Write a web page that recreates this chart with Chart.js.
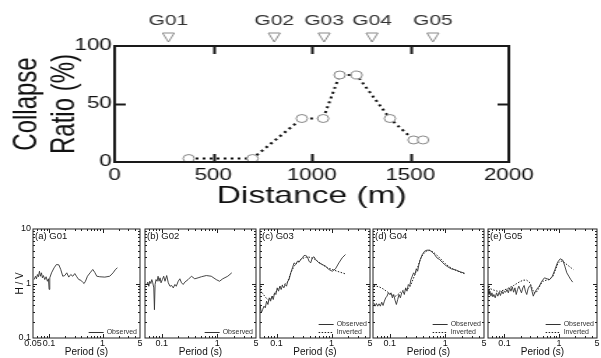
<!DOCTYPE html>
<html>
<head>
<meta charset="utf-8">
<script src="https://cdn.jsdelivr.net/npm/chart.js@4"></script>
<style>
  body { margin: 0; background: #fff; width: 601px; height: 358px; overflow: hidden; position: relative; }
  canvas { position: absolute; }
  #topWrap { position: absolute; left: 0; top: 0; width: 430px; height: 215px; transform: scaleX(1.3977); transform-origin: 0 0; }
</style>
</head>
<body>
<div id="topWrap"><canvas id="collapse" width="430" height="215" style="left:0;top:0"></canvas></div>
<canvas id="pA" width="146" height="143" style="left:0;top:215px"></canvas>
<canvas id="pB" width="121" height="143" style="left:141px;top:215px"></canvas>
<canvas id="pC" width="120" height="143" style="left:256px;top:215px"></canvas>
<canvas id="pD" width="121" height="143" style="left:369px;top:215px"></canvas>
<canvas id="pE" width="119" height="143" style="left:484px;top:215px"></canvas>
<script>
// --- top panel: collapse ratio along the line ---
const distance = [376, 700, 950, 1058, 1142, 1228, 1397, 1517, 1565];
const collapseRatio = [3, 3, 37.5, 37.5, 75, 75, 37.5, 19, 19];
const stationNames = ["G01", "G02", "G03", "G04", "G05"];
const stationDist = [273, 810, 1063, 1306, 1615];
const distTicks = [0, 500, 1000, 1500, 2000];
const ratioTicks = [0, 50, 100];

// --- H/V panels (period s, H/V) ---
const g01Observed = [[0.0525,1.18],[0.0556,1.36],[0.058,1.22],[0.0605,1.46],[0.0632,1.33],[0.066,1.68],[0.0689,1.36],[0.072,1.57],[0.075,1.27],[0.0783,1.40],[0.083,1.18],[0.0879,1.33],[0.093,1.10],[0.0972,1.22],[0.100,0.78],[0.103,1.27],[0.111,1.57],[0.124,1.94],[0.137,2.23],[0.152,2.20],[0.165,1.81],[0.18,1.36],[0.196,1.40],[0.214,1.57],[0.233,1.31],[0.254,1.46],[0.277,1.36],[0.302,1.52],[0.329,1.33],[0.359,1.18],[0.391,1.15],[0.426,1.05],[0.451,1.0],[0.478,1.10],[0.521,1.36],[0.584,1.57],[0.655,1.81],[0.714,1.60],[0.778,1.36],[0.885,1.33],[1.10,1.31],[1.36,1.36],[1.57,1.57],[1.74,1.81],[1.89,1.94]];
const g02Observed = [[0.054,0.96],[0.0562,1.06],[0.0586,0.89],[0.061,1.10],[0.0637,1.0],[0.0663,1.18],[0.069,1.03],[0.072,0.83],[0.074,0.33],[0.076,0.96],[0.079,1.18],[0.0826,1.10],[0.086,1.36],[0.0896,1.10],[0.0934,1.27],[0.0973,1.03],[0.1028,1.18],[0.1086,1.36],[0.1147,1.10],[0.123,1.40],[0.1315,1.03],[0.141,0.89],[0.151,0.92],[0.1615,0.83],[0.173,0.96],[0.183,0.89],[0.1985,1.10],[0.2125,1.22],[0.2275,1.03],[0.2437,0.96],[0.261,1.06],[0.299,1.18],[0.3435,1.36],[0.394,1.22],[0.452,1.27],[0.518,1.33],[0.636,1.40],[0.781,1.36],[0.96,1.18],[1.10,1.10],[1.26,1.22],[1.55,1.36],[1.83,1.57]];
const g03Observed = [[0.050,0.412],[0.0529,0.29],[0.0559,0.333],[0.059,0.384],[0.0624,0.358],[0.0659,0.474],[0.0697,0.412],[0.0736,0.546],[0.0779,0.474],[0.0824,0.586],[0.0871,0.508],[0.092,0.674],[0.0973,0.628],[0.1028,0.832],[0.1087,0.723],[0.1149,0.893],[0.1213,0.776],[0.128,0.92],[0.1357,0.832],[0.1435,0.958],[0.1517,0.893],[0.160,1.10],[0.169,1.18],[0.1815,1.57],[0.1945,1.94],[0.2085,2.39],[0.2235,2.23],[0.2397,2.57],[0.257,2.46],[0.2754,2.76],[0.295,2.96],[0.316,3.26],[0.339,3.26],[0.363,3.09],[0.389,2.57],[0.417,2.39],[0.447,2.96],[0.48,3.09],[0.514,2.76],[0.590,2.39],[0.678,2.23],[0.779,2.08],[0.895,1.81],[1.03,1.68],[1.18,1.86],[1.36,2.39],[1.56,2.96],[1.79,3.40]];
const g03Inverted = [[0.050,0.755],[0.0559,0.656],[0.0641,0.546],[0.0716,0.494],[0.079,0.523],[0.0907,0.628],[0.104,0.776],[0.1197,0.893],[0.1376,0.958],[0.158,1.06],[0.1815,1.57],[0.2085,2.08],[0.2397,2.46],[0.2754,2.76],[0.316,2.96],[0.363,3.09],[0.417,3.0],[0.48,2.84],[0.551,2.57],[0.678,2.23],[0.835,1.94],[1.03,1.81],[1.26,1.68],[1.56,1.57],[1.79,1.50]];
const g04Observed = [[0.0516,0.442],[0.0546,0.384],[0.0576,0.430],[0.0608,0.384],[0.0643,0.424],[0.0679,0.384],[0.0718,0.454],[0.0759,0.395],[0.0802,0.474],[0.0847,0.546],[0.0895,0.586],[0.0946,0.674],[0.1,0.628],[0.1057,0.674],[0.1117,0.546],[0.118,0.628],[0.1247,0.494],[0.1318,0.412],[0.1393,0.508],[0.1472,0.628],[0.1556,0.546],[0.1644,0.674],[0.1738,0.723],[0.1834,0.628],[0.1938,0.832],[0.2048,0.723],[0.2164,0.958],[0.2286,0.893],[0.2415,1.18],[0.2552,1.36],[0.2697,1.57],[0.285,1.46],[0.3012,1.86],[0.3183,1.68],[0.3363,2.23],[0.3555,2.76],[0.3862,3.40],[0.4254,3.92],[0.4686,4.09],[0.5233,4.09],[0.5836,3.76],[0.6427,3.40],[0.7077,2.96],[0.7907,2.76],[0.883,2.46],[0.9728,2.23],[1.116,2.02],[1.282,1.86],[1.578,1.76],[1.858,1.64],[2.223,1.55]];
const g04Inverted = [[0.0516,0.919],[0.0576,0.893],[0.0661,0.857],[0.0759,0.798],[0.0871,0.723],[0.1,0.656],[0.1148,0.602],[0.1282,0.586],[0.1412,0.628],[0.1556,0.693],[0.1738,0.744],[0.1938,0.776],[0.2133,0.798],[0.2349,0.893],[0.2624,1.18],[0.2929,1.57],[0.3228,2.08],[0.3555,2.76],[0.3971,3.40],[0.4557,3.92],[0.5233,4.03],[0.60,3.81],[0.6885,3.40],[0.7907,2.96],[0.9078,2.57],[1.042,2.23],[1.196,2.02],[1.374,1.86],[1.578,1.73],[1.858,1.61],[2.223,1.52]];
const g05Observed = [[0.050,0.776],[0.0521,0.628],[0.0543,0.723],[0.0566,0.586],[0.059,0.674],[0.0615,0.569],[0.0641,0.628],[0.0678,0.546],[0.0717,0.674],[0.0758,0.586],[0.0801,0.693],[0.0847,0.602],[0.0895,0.723],[0.0946,0.646],[0.1,0.723],[0.1057,0.693],[0.1117,0.776],[0.118,0.674],[0.1248,0.832],[0.1319,0.723],[0.1394,0.869],[0.1475,0.693],[0.1559,0.832],[0.1648,0.628],[0.1741,0.776],[0.184,0.893],[0.1945,0.776],[0.2056,0.674],[0.2175,0.832],[0.2299,0.919],[0.2429,0.723],[0.257,0.628],[0.2716,0.798],[0.2871,0.893],[0.3034,0.919],[0.3206,0.723],[0.3388,0.586],[0.3581,0.674],[0.389,0.776],[0.4352,0.893],[0.4862,1.103],[0.5433,1.27],[0.6068,1.218],[0.678,1.184],[0.7586,1.363],[0.847,1.807],[0.9462,2.46],[1.057,2.84],[1.181,2.68],[1.283,2.08],[1.396,1.57],[1.517,1.363],[1.648,1.184],[1.791,1.06]];
const g05Inverted = [[0.050,0.856],[0.0558,0.798],[0.0641,0.755],[0.0737,0.723],[0.0847,0.723],[0.0973,0.755],[0.1117,0.798],[0.1283,0.856],[0.1475,0.919],[0.1694,1.0],[0.1945,1.088],[0.2236,1.151],[0.257,1.151],[0.2951,1.028],[0.3296,0.776],[0.3484,0.674],[0.3786,0.674],[0.417,0.776],[0.46,0.958],[0.514,1.103],[0.59,1.151],[0.678,1.184],[0.7798,1.363],[0.8706,1.807],[0.9594,2.328],[1.057,2.57],[1.181,2.57],[1.319,2.328],[1.475,2.14],[1.671,1.94],[1.841,1.807]];

const periodTicks = [0.05, 0.1, 1, 5];
const hvTicks = [0.1, 1, 10];
const periodMinor = [0.06, 0.07, 0.08, 0.09, 0.2, 0.3, 0.4, 0.5, 0.6, 0.7, 0.8, 0.9, 2, 3, 4];
const hvMinor = [0.2, 0.3, 0.4, 0.5, 0.6, 0.7, 0.8, 0.9, 2, 3, 4, 5, 6, 7, 8, 9];

Chart.defaults.font.family = "'Liberation Sans', Arial, sans-serif";
Chart.defaults.color = "#111";
Chart.defaults.animation = false;
Chart.defaults.plugins.legend.display = false;
Chart.defaults.plugins.tooltip.enabled = false;

// box round the plot area with ticks pointing inside
const frameTicks = {
  id: "frameTicks",
  afterDraw(chart, args, o) {
    const { ctx, chartArea: a, scales } = chart;
    const xs = scales.x, ys = scales.y;
    ctx.save();
    ctx.setLineDash([]);
    ctx.strokeStyle = o.color;
    ctx.lineWidth = o.width;
    ctx.strokeRect(a.left, a.top, a.right - a.left, a.bottom - a.top);
    ctx.beginPath();
    const doX = (vals, len) => vals.forEach(v => {
      const px = Math.round(xs.getPixelForValue(v)) + 0.5;
      ctx.moveTo(px, a.bottom); ctx.lineTo(px, a.bottom - len);
      ctx.moveTo(px, a.top); ctx.lineTo(px, a.top + len);
    });
    const doY = (vals, len) => vals.forEach(v => {
      const py = Math.round(ys.getPixelForValue(v)) + 0.5;
      ctx.moveTo(a.left, py); ctx.lineTo(a.left + len, py);
      ctx.moveTo(a.right, py); ctx.lineTo(a.right - len, py);
    });
    doX(o.xMajor || [], o.major);
    doX(o.xMinor || [], o.minor);
    doY(o.yMajor || [], o.major);
    doY(o.yMinor || [], o.minor);
    ctx.stroke();
    ctx.restore();
  }
};

// station triangles above the top panel
const stationMarks = {
  id: "stationMarks",
  afterDraw(chart) {
    const { ctx, chartArea: a, scales } = chart;
    ctx.save();
    ctx.strokeStyle = "#8a8a8a";
    ctx.lineWidth = 1;
    stationDist.forEach(d => {
      const px = scales.xTop.getPixelForValue(d);
      ctx.beginPath();
      ctx.moveTo(px - 4.2, a.top - 13);
      ctx.lineTo(px + 4.2, a.top - 13);
      ctx.lineTo(px, a.top - 4);
      ctx.closePath();
      ctx.stroke();
    });
    ctx.restore();
  }
};

// panel name and small legend inside each H/V box
const panelNotes = {
  id: "panelNotes",
  afterDraw(chart, args, o) {
    const { ctx, chartArea: a } = chart;
    ctx.save();
    ctx.fillStyle = "#111";
    ctx.font = "9.5px 'Liberation Sans', Arial, sans-serif";
    ctx.textBaseline = "top";
    ctx.fillText(o.name, a.left + 2, a.top + 3);
    ctx.font = "7px 'Liberation Sans', Arial, sans-serif";
    ctx.textBaseline = "middle";
    ctx.fillStyle = "#333";
    const sets = chart.data.datasets;
    sets.forEach((ds, i) => {
      const y = a.bottom - 6 - (sets.length - 1 - i) * 8;
      const textW = ctx.measureText("Observed").width;
      const tx = a.right - 3 - textW;
      ctx.fillText(ds.label, tx, y);
      ctx.beginPath();
      ctx.strokeStyle = ds.borderColor;
      ctx.lineWidth = 1;
      ctx.setLineDash(ds.borderDash || []);
      ctx.moveTo(tx - 18, Math.round(y) + 0.5);
      ctx.lineTo(tx - 3, Math.round(y) + 0.5);
      ctx.stroke();
    });
    ctx.restore();
  }
};

function toXY(pairs) {
  return pairs.map(p => ({ x: p[0], y: p[1] }));
}

// Gráfico superior
new Chart(document.getElementById("collapse"), {
  type: "scatter",
  data: {
    datasets: [{
      data: distance.map((d, i) => ({ x: d, y: collapseRatio[i] })),
      showLine: true,
      borderColor: "#111",
      borderWidth: 2,
      borderDash: [2, 3],
      pointRadius: 4,
      pointBackgroundColor: "#fff",
      pointBorderColor: "#888",
      pointBorderWidth: 1
    }]
  },
  options: {
    responsive: false,
    devicePixelRatio: 1,
    layout: { padding: { left: 0, right: 66, top: 0, bottom: 4 } },
    scales: {
      x: {
        type: "linear", position: "bottom", min: 0, max: 2000,
        afterBuildTicks: s => { s.ticks = distTicks.map(v => ({ value: v })); },
        ticks: { callback: v => String(v), padding: 4, font: { size: 16 }, maxRotation: 0, autoSkip: false },
        grid: { display: false, drawTicks: false },
        border: { display: false },
        title: { display: true, text: "Distance (m)", font: { size: 24 }, padding: 0, color: "#111" },
        afterFit: s => { s.height = 49; s.paddingLeft = 0; s.paddingRight = 0; }
      },
      xTop: {
        type: "linear", axis: "x", position: "top", min: 0, max: 2000,
        afterBuildTicks: s => { s.ticks = stationDist.map(v => ({ value: v })); },
        ticks: { callback: (v, i) => stationNames[i], padding: 16, font: { size: 15 }, color: "#333", maxRotation: 0, autoSkip: false },
        grid: { display: false, drawTicks: false },
        border: { display: false },
        afterFit: s => { s.height = 46; s.paddingLeft = 0; s.paddingRight = 0; }
      },
      y: {
        type: "linear", min: 0, max: 100,
        afterBuildTicks: s => { s.ticks = ratioTicks.map(v => ({ value: v })); },
        ticks: { callback: v => String(v), padding: 2, font: { size: 16 } },
        grid: { display: false, drawTicks: false },
        border: { display: false },
        title: { display: true, text: ["Collapse", "Ratio (%)"], font: { size: 24, lineHeight: 1.12 }, padding: { top: 6, bottom: 0 }, color: "#111" },
        afterFit: s => { s.width = 82; s.paddingTop = 0; s.paddingBottom = 0; }
      }
    },
    plugins: {
      frameTicks: { color: "#1a1a1a", width: 2, xMajor: [500, 1000, 1500], yMajor: [50], major: 8, minor: 0 }
    }
  },
  plugins: [frameTicks, stationMarks]
});

// Paneles H/V
function makePanel(id, name, observed, inverted, first) {
  const sets = [{
    label: "Observed", data: toXY(observed), borderColor: "#333", borderWidth: 0.9, pointRadius: 0
  }];
  if (inverted) {
    sets.push({
      label: "Inverted", data: toXY(inverted), borderColor: "#222", borderWidth: 1, borderDash: [1.5, 1.5], pointRadius: 0
    });
  }
  const xLabels = first ? periodTicks : periodTicks.slice(1);
  new Chart(document.getElementById(id), {
    type: "line",
    data: { datasets: sets },
    options: {
      responsive: false,
      devicePixelRatio: 1,
      layout: { padding: { left: first ? 0 : 4, right: 6, top: 14, bottom: 0 } },
      scales: {
        x: {
          type: "logarithmic", min: 0.05, max: 5,
          afterBuildTicks: s => { s.ticks = xLabels.map(v => ({ value: v })); },
          ticks: { callback: v => String(v), padding: 0, font: { size: 9 }, maxRotation: 0, autoSkip: false },
          grid: { display: false, drawTicks: false },
          border: { display: false },
          title: { display: true, text: "Period (s)", font: { size: 10 }, padding: 0, color: "#111" },
          afterFit: s => { s.height = 20; s.paddingLeft = 0; s.paddingRight = 0; }
        },
        y: {
          type: "logarithmic", min: 0.1, max: 10, display: first,
          afterBuildTicks: s => { s.ticks = hvTicks.map(v => ({ value: v })); },
          ticks: { callback: v => String(v), padding: 2, font: { size: 9 } },
          grid: { display: false, drawTicks: false },
          border: { display: false },
          title: { display: true, text: "H / V", font: { size: 10 }, padding: { top: 14, bottom: 0 }, color: "#111" },
          afterFit: s => { s.width = first ? 33 : 0; s.paddingTop = 0; s.paddingBottom = 0; }
        }
      },
      plugins: {
        frameTicks: { color: "#222", width: 1, xMajor: [0.1, 1], xMinor: periodMinor, yMajor: [1], yMinor: hvMinor, major: 4, minor: 2 },
        panelNotes: { name: name }
      }
    },
    plugins: [frameTicks, panelNotes]
  });
}

makePanel("pA", "(a) G01", g01Observed, null, true);
makePanel("pB", "(b) G02", g02Observed, null, false);
makePanel("pC", "(c) G03", g03Observed, g03Inverted, false);
makePanel("pD", "(d) G04", g04Observed, g04Inverted, false);
makePanel("pE", "(e) G05", g05Observed, g05Inverted, false);
</script>
</body>
</html>
